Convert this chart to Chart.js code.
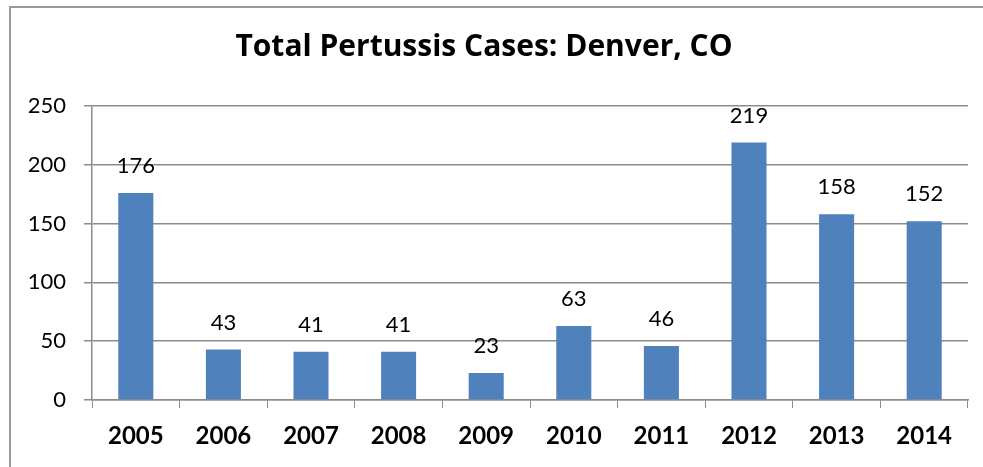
<!DOCTYPE html>
<html>
<head>
<meta charset="utf-8">
<script src="https://cdn.jsdelivr.net/npm/chart.js@4/dist/chart.umd.min.js"></script>
<style>
  html, body { margin: 0; padding: 0; background: #fff; }
  #wrap { position: relative; width: 983px; height: 467px; overflow: hidden; }
  #frame { position: absolute; left: 9px; top: 6px; width: 1000px; height: 500px;
           border-left: 2px solid #9a9a9a; border-top: 2px solid #9a9a9a; box-sizing: border-box; }
  #chart { position: absolute; left: 0; top: 0; }
</style>
</head>
<body>
<div id="wrap">
  <div id="frame"></div>
  <canvas id="chart" width="983" height="467"></canvas>
</div>
<script>
const years = ['2005', '2006', '2007', '2008', '2009', '2010', '2011', '2012', '2013', '2014'];
const cases = [176, 43, 41, 41, 23, 63, 46, 219, 158, 152];
const yTicks = [0, 50, 100, 150, 200, 250];

const fontFam = 'Lato, "Open Sans", sans-serif';

// nilai di atas batang
const valueLabels = {
    id: 'valueLabels',
    afterDatasetsDraw(chart) {
        const ctx = chart.ctx;
        const meta = chart.getDatasetMeta(0);
        ctx.save();
        ctx.font = '22px ' + fontFam;
        ctx.fillStyle = '#000';
        ctx.textAlign = 'center';
        ctx.textBaseline = 'middle';
        meta.data.forEach((bar, i) => {
            ctx.fillText(String(cases[i]), bar.x, bar.y - 27);
        });
        ctx.restore();
    }
};

const ctx = document.getElementById('chart').getContext('2d');
new Chart(ctx, {
    type: 'bar',
    data: {
        labels: years,
        datasets: [{
            data: cases,
            backgroundColor: '#4F81BD',
            borderWidth: 0,
            categoryPercentage: 0.8,
            barPercentage: 0.5
        }]
    },
    options: {
        responsive: false,
        animation: false,
        layout: { padding: { left: 0, right: 15, top: 0, bottom: 0 } },
        plugins: {
            legend: { display: false },
            tooltip: { enabled: false },
            title: {
                display: true,
                text: 'Total Pertussis Cases: Denver, CO',
                color: '#000',
                font: { family: '"Open Sans", Lato, sans-serif', size: 30, weight: 'bold' },
                padding: { top: 29, bottom: 41 }
            }
        },
        scales: {
            x: {
                grid: { display: true, drawOnChartArea: false, drawTicks: true, tickLength: 8, color: '#8c8c8c', offset: true },
                border: { display: true, color: '#8c8c8c', width: 1.5 },
                ticks: { color: '#000', font: { family: fontFam, size: 24, weight: 'bold' }, padding: 14, maxRotation: 0 },
                afterFit(scale) { scale.height = 67; }
            },
            y: {
                min: 0,
                max: 250,
                afterBuildTicks(scale) { scale.ticks = yTicks.map(v => ({ value: v })); },
                grid: { color: '#8c8c8c', lineWidth: 1.5, drawTicks: true, tickLength: 8 },
                border: { display: true, color: '#8c8c8c', width: 1.5 },
                ticks: { color: '#000', font: { family: fontFam, size: 22 }, padding: 18 },
                afterFit(scale) { scale.width = 92; }
            }
        }
    },
    plugins: [valueLabels]
});
</script>
</body>
</html>
